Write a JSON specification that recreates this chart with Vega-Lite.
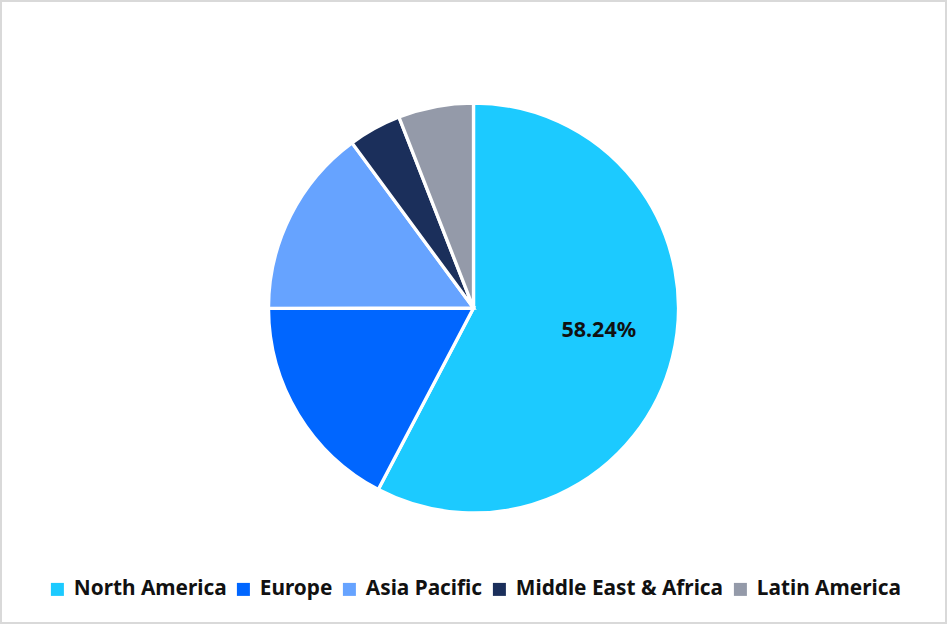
{
  "$schema": "https://vega.github.io/schema/vega-lite/v6.json",
  "width": 945,
  "height": 622,
  "padding": {"left": 1, "top": 1, "right": 1, "bottom": 1},
  "autosize": "none",
  "background": "white",
  "view": {"stroke": "#d9d9d9", "strokeWidth": 2, "fill": "white"},
  "data": {
    "values": [
      {"region": "North America", "rank": 1, "share": 58.24, "label": "58.24%"},
      {"region": "Europe", "rank": 2, "share": 17.44, "label": ""},
      {"region": "Asia Pacific", "rank": 3, "share": 15.08, "label": ""},
      {"region": "Middle East & Africa", "rank": 4, "share": 4.21, "label": ""},
      {"region": "Latin America", "rank": 5, "share": 5.98, "label": ""}
    ]
  },
  "encoding": {
    "theta": {"field": "share", "type": "quantitative", "stack": true},
    "order": {"field": "rank", "type": "ordinal"}
  },
  "layer": [
    {
      "mark": {"type": "arc", "outerRadius": 205, "stroke": "white", "strokeWidth": 3.3, "yOffset": -4},
      "encoding": {
        "color": {
          "field": "region",
          "type": "nominal",
          "scale": {
            "domain": ["North America", "Europe", "Asia Pacific", "Middle East & Africa", "Latin America"],
            "range": ["#1ccaff", "#0066ff", "#66a3ff", "#1b2f5b", "#949aa9"]
          },
          "legend": {
            "orient": "none",
            "legendX": 46,
            "legendY": 578,
            "direction": "horizontal",
            "columns": 5,
            "title": null,
            "symbolType": "square",
            "symbolSize": 169,
            "symbolStrokeWidth": 0,
            "labelFont": "Noto Sans",
            "labelFontWeight": "bold",
            "labelFontSize": 20.8,
            "labelColor": "#111111",
            "labelLimit": 300,
            "labelOffset": 6,
            "columnPadding": 6,
            "gridAlign": "none"
          }
        }
      }
    },
    {
      "mark": {"type": "text", "radius": 129, "font": "Noto Sans", "fontWeight": "bold", "fontSize": 21.5, "color": "#111111", "yOffset": -12},
      "encoding": {"text": {"field": "label"}}
    }
  ]
}
